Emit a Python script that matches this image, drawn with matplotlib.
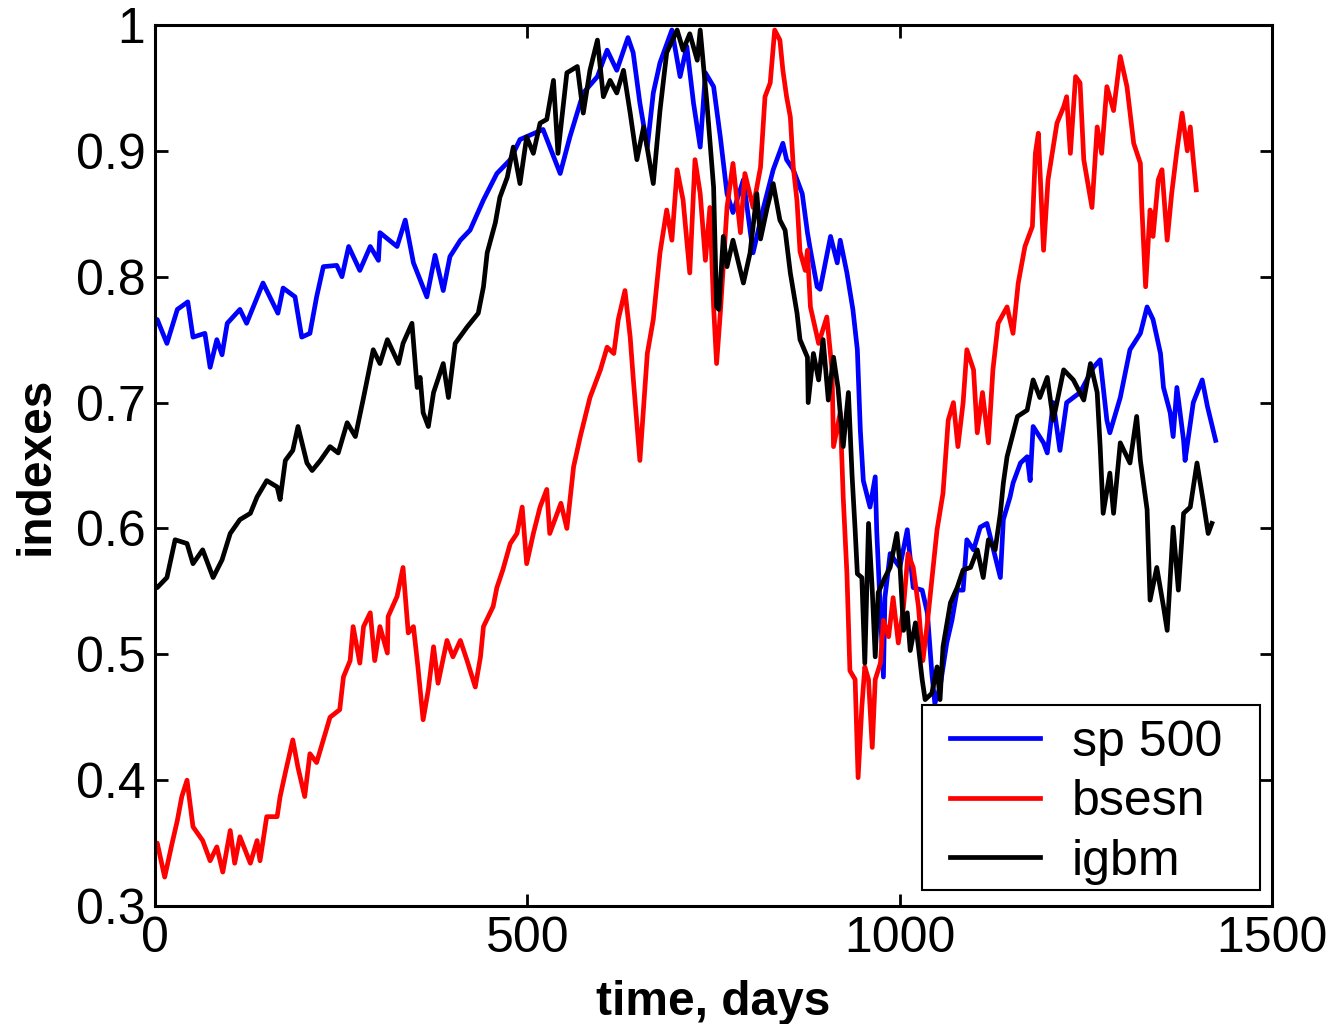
import matplotlib
matplotlib.use("Agg")
import matplotlib.pyplot as plt
from matplotlib.patches import Rectangle

plt.rcParams['font.family'] = ['Liberation Sans', 'DejaVu Sans']

# ---- data (day, normalised index) ----
sp_days = [0, 3, 16, 30, 44, 51, 67, 74, 83, 90, 97, 114, 123, 145, 165, 172, 188, 197, 208, 217,
           226, 244, 251, 260, 275, 289, 300, 302, 325, 336, 347, 365, 376, 387, 396, 410, 423, 441,
           459, 477, 490, 521, 544, 557, 575, 594, 607, 620, 635, 642, 651, 661, 669, 678, 694, 705,
           714, 723, 732, 739, 750, 759, 768, 776, 790, 803, 817, 830, 843, 848, 857, 869, 876, 880,
           889, 893, 907, 916, 920, 929, 937, 943, 947, 951, 960, 967, 969, 978, 980, 987, 1000, 1010,
           1018, 1030, 1037, 1043, 1047, 1054, 1063, 1070, 1077, 1085, 1090, 1099, 1108, 1117, 1125,
           1135, 1139, 1148, 1152, 1162, 1171, 1175, 1179, 1193, 1198, 1206, 1215, 1224, 1242, 1251,
           1260, 1269, 1278, 1282, 1296, 1309, 1323, 1332, 1340, 1350, 1354, 1363, 1367, 1372, 1381,
           1383, 1394, 1406, 1413, 1424]
sp_vals = [.762, .766, .747, .774, .78, .752, .755, .728, .75, .738, .763, .774, .763, .795, .771, .791,
           .784, .752, .755, .784, .808, .809, .8, .824, .805, .824, .813, .835, .824, .845, .811, .784,
           .817, .789, .816, .829, .837, .861, .882, .893, .909, .917, .882, .911, .946, .959, .98, .964,
           .99, .978, .938, .903, .946, .97, .996, .959, .983, .938, .903, .962, .951, .911, .866, .851,
           .877, .819, .855, .885, .906, .893, .885, .866, .835, .821, .792, .79, .832, .811, .829, .803,
           .774, .742, .678, .638, .617, .641, .598, .482, .545, .58, .569, .599, .553, .551, .533, .485,
           .461, .474, .509, .527, .551, .551, .591, .583, .601, .604, .585, .561, .607, .625, .636, .652,
           .657, .638, .681, .668, .66, .70, .662, .70, .708, .718, .728, .734, .686, .676, .704, .742,
           .755, .776, .766, .739, .712, .692, .673, .712, .67, .654, .70, .718, .697, .67]

bse_days = [0, 3, 13, 23, 30, 36, 43, 51, 64, 74, 83, 91, 101, 107, 114, 128, 137, 141, 150, 164, 168,
            175, 185, 192, 201, 208, 217, 226, 235, 248, 253, 262, 266, 275, 280, 289, 295, 302, 312,
            313, 325, 333, 340, 347, 353, 360, 367, 374, 380, 392, 400, 410, 419, 430, 437, 441, 454,
            459, 467, 477, 486, 493, 499, 508, 517, 526, 530, 545, 553, 562, 571, 584, 598, 607, 616,
            622, 631, 638, 642, 651, 661, 669, 678, 687, 694, 701, 709, 718, 725, 732, 739, 745, 750,
            754, 759, 768, 776, 786, 792, 803, 813, 819, 826, 832, 839, 843, 848, 853, 857, 862, 866,
            873, 876, 880, 891, 902, 909, 911, 920, 924, 929, 933, 940, 944, 949, 953, 958, 963, 967,
            974, 978, 985, 991, 998, 1005, 1011, 1018, 1025, 1031, 1037, 1043, 1050, 1058, 1065, 1072,
            1078, 1085, 1090, 1099, 1104, 1111, 1119, 1125, 1132, 1144, 1152, 1159, 1168, 1178, 1182,
            1186, 1193, 1199, 1206, 1211, 1220, 1224, 1229, 1236, 1242, 1247, 1258, 1265, 1271, 1278,
            1287, 1296, 1305, 1314, 1323, 1325, 1330, 1336, 1340, 1347, 1352, 1359, 1365, 1372, 1379,
            1386, 1390, 1394, 1398]
bse_vals = [.345, .35, .323, .35, .368, .387, .40, .363, .352, .336, .347, .327, .36, .334, .355, .334,
            .352, .336, .371, .371, .387, .406, .432, .41, .387, .421, .414, .432, .45, .456, .482, .495,
            .522, .493, .522, .533, .495, .522, .501, .53, .546, .569, .517, .522, .49, .448, .472, .506,
            .477, .511, .498, .511, .495, .474, .498, .522, .538, .553, .567, .588, .596, .617, .572, .596,
            .617, .631, .596, .62, .60, .649, .673, .704, .726, .744, .739, .766, .789, .752, .72, .654,
            .739, .766, .819, .853, .829, .885, .861, .803, .893, .866, .813, .855, .776, .731, .771, .855,
            .89, .835, .882, .855, .887, .943, .954, .996, .988, .964, .943, .927, .887, .86, .82, .805,
            .821, .776, .747, .768, .726, .665, .692, .625, .564, .487, .48, .402, .458, .49, .48, .426,
            .48, .493, .527, .514, .545, .509, .538, .58, .569, .538, .495, .525, .559, .599, .628, .686,
            .70, .665, .70, .742, .726, .676, .708, .668, .726, .763, .776, .755, .795, .824, .84, .898,
            .914, .821, .877, .903, .922, .935, .943, .898, .959, .954, .893, .855, .919, .898, .951, .932,
            .975, .951, .906, .89, .855, .792, .853, .832, .877, .885, .829, .866, .90, .93, .90, .919,
            .893, .869]

igbm_days = [0, 3, 16, 27, 43, 51, 64, 78, 90, 101, 114, 128, 137, 150, 164, 168, 175, 185, 192, 204,
             211, 222, 235, 246, 258, 269, 280, 293, 302, 312, 327, 333, 345, 352, 356, 360, 367, 374,
             387, 394, 403, 419, 434, 441, 446, 457, 463, 473, 481, 490, 499, 508, 517, 526, 535, 541,
             553, 567, 575, 584, 594, 602, 611, 620, 629, 638, 647, 656, 669, 678, 687, 701, 709, 718,
             728, 732, 741, 750, 754, 757, 763, 768, 776, 790, 799, 808, 813, 822, 830, 839, 846, 853,
             862, 866, 876, 877, 884, 891, 897, 904, 911, 917, 924, 931, 936, 940, 943, 949, 953, 958,
             963, 967, 971, 980, 987, 996, 1000, 1005, 1010, 1014, 1021, 1025, 1030, 1034, 1043, 1050,
             1054, 1058, 1068, 1077, 1085, 1095, 1104, 1112, 1119, 1128, 1135, 1139, 1144, 1158, 1171,
             1179, 1188, 1198, 1206, 1220, 1233, 1247, 1256, 1265, 1269, 1273, 1282, 1287, 1296, 1309,
             1318, 1323, 1332, 1336, 1345, 1354, 1359, 1367, 1374, 1381, 1390, 1399, 1407, 1414, 1419]
igbm_vals = [.555, .553, .561, .591, .588, .572, .583, .561, .575, .596, .607, .612, .625, .638, .633,
             .623, .654, .662, .681, .652, .646, .654, .665, .66, .684, .673, .704, .742, .731, .75, .731,
             .747, .763, .712, .72, .692, .681, .708, .731, .704, .747, .76, .771, .792, .819, .843, .863,
             .879, .903, .874, .911, .898, .922, .925, .956, .898, .962, .967, .93, .964, .988, .943, .956,
             .946, .964, .93, .893, .919, .874, .932, .978, .996, .98, .993, .972, .996, .938, .871, .776,
             .774, .832, .808, .829, .795, .819, .866, .83, .855, .874, .845, .837, .803, .771, .75, .736,
             .70, .739, .718, .75, .702, .736, .712, .665, .708, .641, .599, .564, .561, .493, .604, .551,
             .498, .549, .561, .569, .596, .573, .519, .533, .503, .525, .506, .48, .464, .469, .49, .464,
             .506, .541, .553, .567, .569, .583, .561, .591, .583, .612, .636, .657, .689, .694, .718, .704,
             .72, .686, .726, .718, .702, .731, .708, .665, .612, .644, .612, .668, .652, .689, .654, .615,
             .543, .569, .538, .519, .601, .551, .612, .617, .652, .623, .596, .604]

labels = ['sp 500', 'bsesn', 'igbm']
xticks = [0, 500, 1000, 1500]
yticks = [0.3, 0.4, 0.5, 0.6, 0.7, 0.8, 0.9, 1.0]
ytick_labels = ['0.3', '0.4', '0.5', '0.6', '0.7', '0.8', '0.9', '1']

fig = plt.figure(figsize=(13.42, 10.24), dpi=100)
ax = fig.add_axes([0.1155, 0.1152, 0.8325, 0.8604])

lw = 3.4
ax.plot(sp_days, sp_vals, color=(0, 0, 1), lw=lw, label=labels[0])
ax.plot(bse_days, bse_vals, color=(1, 0, 0), lw=lw, label=labels[1])
ax.plot(igbm_days, igbm_vals, color='black', lw=lw, label=labels[2])

ax.set_xlim(0, 1500)
ax.set_ylim(0.3, 1.0)
ax.set_xticks(xticks)
ax.set_xticklabels([str(t) for t in xticks])
ax.set_yticks(yticks)
ax.set_yticklabels(ytick_labels)
ax.tick_params(direction='in', length=9, width=2, labelsize=36, top=True, right=True, pad=7)
for s in ax.spines.values():
    s.set_linewidth(2.2)

ax.set_xlabel('time, days', fontsize=34.5, fontweight='bold', labelpad=13)
ax.set_ylabel('indexes', fontsize=34.5, fontweight='bold', labelpad=12)

# matlab-style legend box: white frame drawn separately, entries placed inside
ax.add_patch(Rectangle((0.6867, 0.0182), 0.3026, 0.2099, transform=ax.transAxes,
                       facecolor='white', edgecolor='black', lw=1.5, zorder=4))
leg = ax.legend(loc='upper left', bbox_to_anchor=(0.7117, 0.2115), fontsize=36, frameon=False,
                handlelength=1.8, handletextpad=0.64, labelspacing=0.27, borderpad=0,
                borderaxespad=0)
leg.set_zorder(5)

fig.savefig('out.png', dpi=100)
